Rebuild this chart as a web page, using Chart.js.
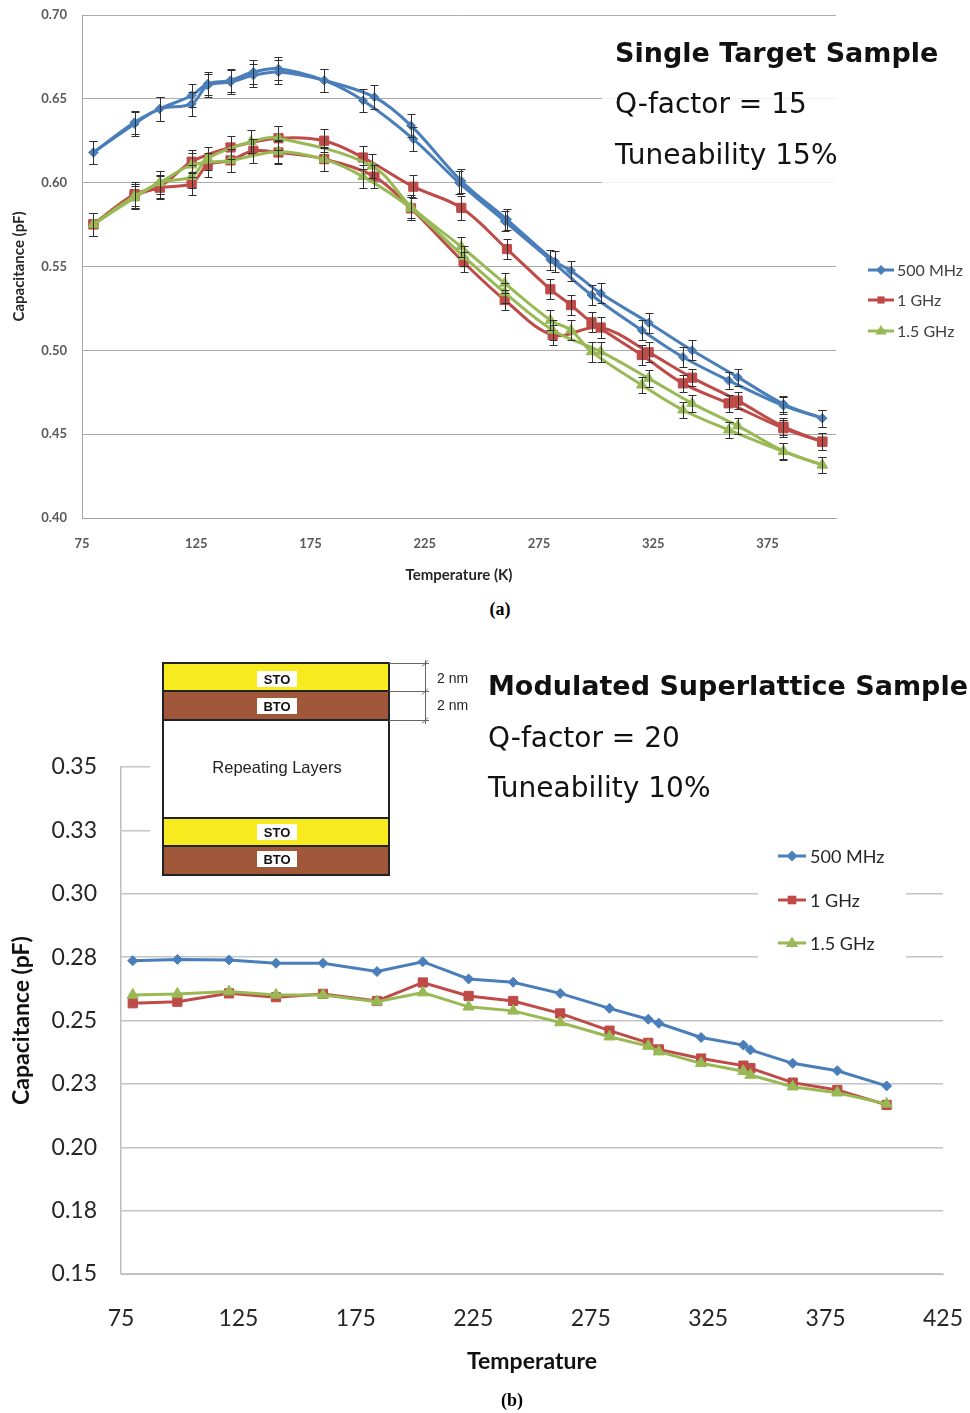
<!DOCTYPE html>
<html>
<head>
<meta charset="utf-8">
<script src="https://cdn.jsdelivr.net/npm/chart.js@4.4.0/dist/chart.umd.min.js"></script>
<style>
  body { margin: 0; background: #fff; width: 970px; height: 1413px; position: relative; overflow: hidden; }
  canvas { position: absolute; left: 0; }
  #chartA { top: 0; }
  #chartB { top: 620px; }
  .cap { position: absolute; font: bold 18px "Liberation Serif"; transform: translate(-50%, -50%); }
</style>
</head>
<body>
<canvas id="chartA" width="970" height="595"></canvas>
<canvas id="chartB" width="970" height="770"></canvas>
<div class="cap" style="left:500px; top:609px">(a)</div>
<div class="cap" style="left:512px; top:1400px">(b)</div>
<script>
// ---------- (a) Single target sample: two temperature sweeps per frequency ----------
const tA500_1 = [80, 98, 109, 123, 130, 140, 150, 161, 181, 198, 220, 240, 260, 280, 298, 320, 338, 358, 382, 399];
const cA500_1 = [0.618, 0.636, 0.644, 0.652, 0.659, 0.661, 0.666, 0.668, 0.661, 0.649, 0.626, 0.600, 0.577, 0.554, 0.533, 0.512, 0.496, 0.482, 0.467, 0.4595];
const eA500_1 = [0.007, 0.007, 0.007, 0.007, 0.007, 0.007, 0.007, 0.007, 0.007, 0.007, 0.007, 0.007, 0.006, 0.006, 0.006, 0.006, 0.006, 0.005, 0.005, 0.005];
const tA500_2 = [80, 98, 109, 123, 130, 140, 150, 161, 181, 203, 219, 241, 261, 282, 289, 302, 323, 342, 362, 382, 399];
const cA500_2 = [0.618, 0.635, 0.644, 0.647, 0.658, 0.660, 0.664, 0.666, 0.661, 0.651, 0.634, 0.601, 0.578, 0.553, 0.5475, 0.534, 0.5165, 0.500, 0.484, 0.468, 0.4595];
const eA500_2 = [0.007, 0.007, 0.007, 0.007, 0.007, 0.007, 0.007, 0.007, 0.007, 0.007, 0.007, 0.007, 0.006, 0.006, 0.006, 0.006, 0.006, 0.006, 0.005, 0.005, 0.005];

const tA1_1 = [80, 98, 109, 123, 140, 161, 181, 198, 220, 241, 261, 280, 289, 298, 320, 338, 358, 382, 399];
const cA1_1 = [0.5752, 0.5932, 0.5976, 0.6125, 0.621, 0.6265, 0.625, 0.615, 0.5976, 0.585, 0.5604, 0.5364, 0.527, 0.5167, 0.4972, 0.4803, 0.4684, 0.4535, 0.4455];
const eA1_1 = [0.007, 0.007, 0.007, 0.007, 0.007, 0.007, 0.007, 0.007, 0.007, 0.007, 0.006, 0.006, 0.006, 0.006, 0.006, 0.005, 0.005, 0.005, 0.005];
const tA1_2 = [80, 98, 109, 123, 130, 140, 150, 161, 181, 203, 219, 242, 260, 281, 302, 323, 342, 362, 382, 399];
const cA1_2 = [0.5752, 0.592, 0.597, 0.5996, 0.6105, 0.6133, 0.619, 0.618, 0.614, 0.6036, 0.5847, 0.5526, 0.530, 0.5092, 0.5136, 0.4988, 0.4837, 0.470, 0.4545, 0.4455];
const eA1_2 = [0.007, 0.007, 0.007, 0.007, 0.007, 0.007, 0.007, 0.007, 0.007, 0.007, 0.007, 0.006, 0.006, 0.006, 0.006, 0.006, 0.005, 0.005, 0.005, 0.005];

const tA15_1 = [80, 98, 109, 123, 130, 149, 161, 202, 219, 241, 260, 280, 289, 298, 320, 338, 358, 382, 399];
const cA15_1 = [0.5752, 0.591, 0.600, 0.6036, 0.6145, 0.6245, 0.6265, 0.6099, 0.5857, 0.5618, 0.540, 0.518, 0.512, 0.4992, 0.4793, 0.4644, 0.4525, 0.4396, 0.4316];
const eA15_1 = [0.007, 0.007, 0.007, 0.007, 0.007, 0.007, 0.007, 0.007, 0.007, 0.006, 0.006, 0.006, 0.006, 0.006, 0.005, 0.005, 0.005, 0.005, 0.005];
const tA15_2 = [80, 98, 109, 123, 140, 161, 181, 198, 219, 242, 260, 281, 302, 323, 342, 362, 382, 399];
const cA15_2 = [0.5752, 0.592, 0.600, 0.6105, 0.6133, 0.6185, 0.6139, 0.6036, 0.5847, 0.556, 0.5344, 0.512, 0.4992, 0.4833, 0.4684, 0.4549, 0.440, 0.4316];
const eA15_2 = [0.007, 0.007, 0.007, 0.007, 0.007, 0.007, 0.007, 0.007, 0.007, 0.006, 0.006, 0.006, 0.006, 0.005, 0.005, 0.005, 0.005, 0.005];

const xTicksA = [75, 125, 175, 225, 275, 325, 375];
const yTicksA = [0.40, 0.45, 0.50, 0.55, 0.60, 0.65, 0.70];
const yLabelsA = ['0.40', '0.45', '0.50', '0.55', '0.60', '0.65', '0.70'];

// ---------- (b) Modulated superlattice sample ----------
const tB = [80, 99, 121, 141, 161, 184, 203.5, 223, 242, 262, 283, 299.5, 304, 322, 340, 343, 361, 380, 401];
const cB500 = [0.2736, 0.2741, 0.2739, 0.2726, 0.2726, 0.2693, 0.2732, 0.2664, 0.2651, 0.2607, 0.2548, 0.2505, 0.2489, 0.2433, 0.2403, 0.2384, 0.2331, 0.2302, 0.2242];
const cB1 = [0.2568, 0.2574, 0.2607, 0.2592, 0.2605, 0.2577, 0.2650, 0.2597, 0.2577, 0.2528, 0.2460, 0.2412, 0.2386, 0.2350, 0.2322, 0.2312, 0.2255, 0.2226, 0.2167];
const cB15 = [0.2601, 0.2605, 0.2614, 0.2601, 0.2601, 0.2574, 0.2610, 0.2554, 0.2538, 0.2492, 0.2436, 0.2399, 0.2377, 0.2331, 0.2300, 0.2285, 0.2239, 0.2215, 0.2171];

const xTicksB = [75, 125, 175, 225, 275, 325, 375, 425];
const yTicksB = [0.15, 0.175, 0.20, 0.225, 0.25, 0.275, 0.30, 0.325, 0.35];
const yLabelsB = ['0.15', '0.18', '0.20', '0.23', '0.25', '0.28', '0.30', '0.33', '0.35'];

const seriesNames = ['500 MHz', '1 GHz', '1.5 GHz'];
const BLUE = '#4a7ebb', RED = '#be4b48', GREEN = '#98b954';

function drawMarker(ctx, style, x, y, r, color) {
  ctx.save();
  ctx.fillStyle = color;
  ctx.beginPath();
  if (style === 'rectRot') {
    ctx.moveTo(x, y - r); ctx.lineTo(x + r, y); ctx.lineTo(x, y + r); ctx.lineTo(x - r, y);
  } else if (style === 'rect') {
    ctx.rect(x - r * 0.72, y - r * 0.72, r * 1.44, r * 1.44);
  } else {
    ctx.moveTo(x, y - r); ctx.lineTo(x + r * 0.95, y + r * 0.6); ctx.lineTo(x - r * 0.95, y + r * 0.6);
  }
  ctx.closePath();
  ctx.fill();
  ctx.restore();
}

function sweep(t, c, e, color, style, r, smooth) {
  return {
    data: t.map((x, i) => ({ x: x, y: c[i] })),
    errors: e,
    showLine: true,
    borderColor: color,
    backgroundColor: color,
    borderWidth: 3,
    pointStyle: style,
    pointRadius: r,
    pointBorderWidth: 1,
    pointBorderColor: color,
    tension: smooth ? 0.35 : 0
  };
}

const errorBars = {
  id: 'errorBars',
  afterDatasetsDraw(chart) {
    const ctx = chart.ctx, ys = chart.scales.y;
    ctx.save();
    ctx.strokeStyle = '#303030';
    ctx.lineWidth = 1;
    chart.data.datasets.forEach((ds, i) => {
      if (!ds.errors) return;
      chart.getDatasetMeta(i).data.forEach((pt, j) => {
        const v = ds.data[j].y, e = ds.errors[j];
        const x = Math.round(pt.x) + 0.5;
        const y1 = Math.round(ys.getPixelForValue(v + e)) + 0.5;
        const y2 = Math.round(ys.getPixelForValue(v - e)) + 0.5;
        ctx.beginPath();
        ctx.moveTo(x, y1); ctx.lineTo(x, y2);
        ctx.moveTo(x - 4, y1); ctx.lineTo(x + 4, y1);
        ctx.moveTo(x - 4, y2); ctx.lineTo(x + 4, y2);
        ctx.stroke();
      });
    });
    ctx.restore();
  }
};

function legendItems(ctx, x0, x1, tx, ys, font, color, sizes) {
  const cols = [BLUE, RED, GREEN], styles = ['rectRot', 'rect', 'triangle'];
  ctx.save();
  ctx.font = font;
  ctx.textBaseline = 'middle';
  ys.forEach((y, i) => {
    ctx.strokeStyle = cols[i];
    ctx.lineWidth = 3;
    ctx.beginPath(); ctx.moveTo(x0, y); ctx.lineTo(x1, y); ctx.stroke();
    drawMarker(ctx, styles[i], (x0 + x1) / 2, y, sizes[i], cols[i]);
    ctx.fillStyle = color;
    ctx.fillText(seriesNames[i], tx, y + 1);
  });
  ctx.restore();
}

const decorA = {
  id: 'decorA',
  beforeDatasetsDraw(chart) {
    const ctx = chart.ctx;
    ctx.save();
    ctx.fillStyle = 'rgba(255,255,255,0.85)';
    ctx.fillRect(602, 20, 236, 167);
    ctx.fillStyle = '#111';
    ctx.textBaseline = 'middle';
    ctx.font = 'bold 27px "DejaVu Sans"';
    ctx.fillText('Single Target Sample', 615, 55);
    ctx.font = '28px "DejaVu Sans"';
    ctx.fillText('Q-factor = 15', 615, 106);
    ctx.fillText('Tuneability 15%', 615, 157);
    ctx.restore();
  },
  afterDraw(chart) {
    legendItems(chart.ctx, 868, 894, 897, [270, 300, 331], '16px Lato', '#404040', [5, 5, 6]);
  }
};

const decorB = {
  id: 'decorB',
  beforeDatasetsDraw(chart) {
    const ctx = chart.ctx;
    ctx.save();
    // text box and legend background
    ctx.fillStyle = '#fff';
    ctx.fillRect(150, 28, 795, 197);
    ctx.fillRect(758, 215, 148, 130);
    // layer stack inset
    const L = 163, R = 389;
    const layers = [[43, 71, '#f7ea1e'], [71, 100, '#a0573a'], [100, 198, '#ffffff'], [198, 226, '#f7ea1e'], [226, 255, '#a0573a']];
    layers.forEach(l => { ctx.fillStyle = l[2]; ctx.fillRect(L, l[0], R - L, l[1] - l[0]); });
    ctx.strokeStyle = '#222';
    ctx.lineWidth = 2;
    ctx.strokeRect(L, 43, R - L, 212);
    ctx.beginPath();
    [71, 100, 198, 226].forEach(y => { ctx.moveTo(L, y); ctx.lineTo(R, y); });
    ctx.stroke();
    const tags = [[59, 'STO'], [86, 'BTO'], [212, 'STO'], [239, 'BTO']];
    ctx.font = 'bold 13px "Liberation Sans"';
    ctx.textAlign = 'center';
    ctx.textBaseline = 'middle';
    tags.forEach(tg => {
      ctx.fillStyle = '#fff';
      ctx.fillRect(257, tg[0] - 8, 40, 16);
      ctx.fillStyle = '#111';
      ctx.fillText(tg[1], 277, tg[0] + 1);
    });
    ctx.font = '16.5px "Liberation Sans"';
    ctx.fillStyle = '#222';
    ctx.fillText('Repeating Layers', 277, 148);
    // thickness markers
    ctx.strokeStyle = '#666';
    ctx.lineWidth = 1;
    ctx.beginPath();
    [43.5, 71.5, 100.5].forEach(y => { ctx.moveTo(R, y); ctx.lineTo(429, y); ctx.moveTo(422, y + 3); ctx.lineTo(428, y - 3); });
    ctx.moveTo(425.5, 40); ctx.lineTo(425.5, 104);
    ctx.stroke();
    ctx.font = '14px "Liberation Sans"';
    ctx.textAlign = 'left';
    ctx.fillStyle = '#222';
    ctx.fillText('2 nm', 437, 59);
    ctx.fillText('2 nm', 437, 86);
    // annotations
    ctx.fillStyle = '#111';
    ctx.font = 'bold 27px "DejaVu Sans"';
    ctx.fillText('Modulated Superlattice Sample', 488, 68);
    ctx.font = '28px "DejaVu Sans"';
    ctx.fillText('Q-factor = 20', 488, 120);
    ctx.fillText('Tuneability 10%', 488, 170);
    ctx.restore();
  },
  afterDraw(chart) {
    legendItems(chart.ctx, 778, 806, 810, [236, 280, 323], '18px Lato', '#262626', [5.5, 6, 6.5]);
  }
};

function tickSetter(list) {
  return s => { s.ticks = list.map(v => ({ value: v })); };
}
function fixX(h) {
  return s => { s.height = h; s.paddingLeft = 0; s.paddingRight = 0; };
}
function fixY(w) {
  return s => { s.width = w; s.paddingTop = 0; s.paddingBottom = 0; };
}

new Chart(document.getElementById('chartA'), {
  type: 'scatter',
  data: {
    datasets: [
      sweep(tA15_1, cA15_1, eA15_1, GREEN, 'triangle', 6, true),
      sweep(tA15_2, cA15_2, eA15_2, GREEN, 'triangle', 6, true),
      sweep(tA1_1, cA1_1, eA1_1, RED, 'rect', 6.5, true),
      sweep(tA1_2, cA1_2, eA1_2, RED, 'rect', 6.5, true),
      sweep(tA500_1, cA500_1, eA500_1, BLUE, 'rectRot', 4.5, true),
      sweep(tA500_2, cA500_2, eA500_2, BLUE, 'rectRot', 4.5, true)
    ]
  },
  options: {
    responsive: false,
    animation: false,
    layout: { padding: { left: 0, top: 15, right: 134, bottom: 0 } },
    plugins: { legend: { display: false }, tooltip: { enabled: false } },
    scales: {
      x: {
        type: 'linear', min: 75, max: 405,
        afterBuildTicks: tickSetter(xTicksA),
        afterFit: fixX(77),
        grid: { display: false, drawTicks: false },
        border: { color: '#a6a6a6' },
        ticks: { padding: 18, color: '#595959', font: { family: 'Lato', size: 13, weight: 'bold' } },
        title: { display: true, text: 'Temperature (K)', color: '#262626',
                 font: { family: 'Lato', size: 15, weight: 'bold' }, padding: { top: 0, bottom: 11 } }
      },
      y: {
        min: 0.40, max: 0.70,
        afterBuildTicks: tickSetter(yTicksA),
        afterFit: fixY(82),
        grid: { color: '#ababab', drawTicks: false },
        border: { color: '#a6a6a6' },
        ticks: { padding: 15, color: '#595959', font: { family: 'Lato', size: 13, weight: 'bold' },
                 callback: (v, i) => yLabelsA[i] },
        title: { display: true, text: 'Capacitance (pF)', color: '#262626',
                 font: { family: 'Lato', size: 15, weight: 'bold' }, padding: { top: 10, bottom: 0 } }
      }
    }
  },
  plugins: [decorA, errorBars]
});

new Chart(document.getElementById('chartB'), {
  type: 'scatter',
  data: {
    datasets: [
      sweep(tB, cB15, null, GREEN, 'triangle', 6.5, false),
      sweep(tB, cB1, null, RED, 'rect', 6.5, false),
      sweep(tB, cB500, null, BLUE, 'rectRot', 5, false)
    ]
  },
  options: {
    responsive: false,
    animation: false,
    layout: { padding: { left: 0, top: 147, right: 27, bottom: 0 } },
    plugins: { legend: { display: false }, tooltip: { enabled: false } },
    scales: {
      x: {
        type: 'linear', min: 75, max: 425,
        afterBuildTicks: tickSetter(xTicksB),
        afterFit: fixX(116),
        grid: { display: false, drawTicks: false },
        border: { color: '#bdbdbd' },
        ticks: { padding: 31, color: '#262626', font: { family: 'Lato', size: 23 } },
        title: { display: true, text: 'Temperature', color: '#111',
                 font: { family: 'Lato', size: 23, weight: 'bold' }, padding: { top: 0, bottom: 15 } }
      },
      y: {
        min: 0.15, max: 0.35,
        afterBuildTicks: tickSetter(yTicksB),
        afterFit: fixY(121),
        grid: { color: '#c4c4c4', lineWidth: 1.5, drawTicks: false },
        border: { color: '#bdbdbd', width: 1.5 },
        ticks: { padding: 24, color: '#262626', font: { family: 'Lato', size: 23 },
                 callback: (v, i) => yLabelsB[i] },
        title: { display: true, text: 'Capacitance (pF)', color: '#111',
                 font: { family: 'Lato', size: 23, weight: 'bold' }, padding: { top: 8, bottom: 0 } }
      }
    }
  },
  plugins: [decorB]
});
</script>
</body>
</html>
